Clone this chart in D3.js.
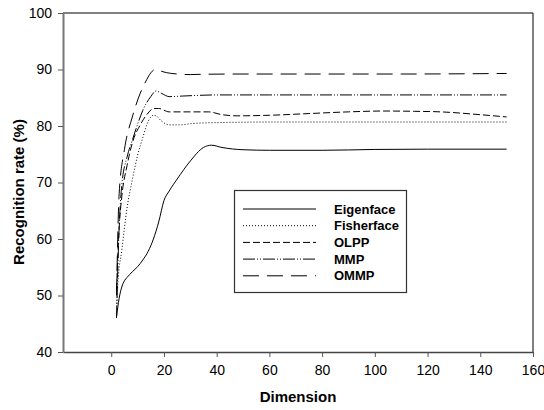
<!DOCTYPE html>
<html>
<head>
<meta charset="utf-8">
<script src="https://cdn.jsdelivr.net/npm/d3@7/dist/d3.min.js"></script>
<style>
  html, body { margin: 0; padding: 0; background: #fff; }
  svg { display: block; font-family: "Liberation Sans", Arial, sans-serif; }
</style>
</head>
<body>
<svg id="chart" width="544" height="410"></svg>
<script>
// ---- data ----
const seriesNames = ["Eigenface", "Fisherface", "OLPP", "MMP", "OMMP"];

const eigenX = [2, 3, 4, 5, 6, 8, 10, 12, 14, 16, 18, 20, 22, 25, 30, 35, 38, 42, 50, 60, 80, 100, 120, 150];
const eigenY = [46.2, 49.5, 51.5, 52.6, 53.2, 54.2, 55.1, 56.3, 57.8, 60.0, 63.0, 66.8, 68.5, 70.6, 73.8, 76.2, 76.6, 76.2, 75.8, 75.7, 75.7, 75.85, 75.9, 75.9];

const fisherX = [2, 2.5, 4, 6, 8, 10, 12, 14, 16, 17, 19, 22, 26, 30, 40, 60, 100, 150];
const fisherY = [47.0, 52.0, 58.0, 65.5, 70.5, 74.8, 78.0, 80.8, 81.9, 81.8, 80.9, 80.2, 80.2, 80.4, 80.6, 80.7, 80.7, 80.7];

const olppX = [2, 3, 4, 6, 8, 11, 14, 16, 18, 22, 30, 37, 42, 48, 60, 75, 90, 103, 115, 125, 140, 150];
const olppY = [51.0, 62.0, 67.5, 73.0, 77.0, 80.2, 82.3, 83.1, 83.1, 82.5, 82.5, 82.5, 82.0, 81.8, 81.9, 82.2, 82.5, 82.65, 82.6, 82.5, 82.0, 81.6];

const mmpX = [2, 3, 4, 6, 8, 10, 12, 15, 17, 19, 22, 27, 40, 60, 100, 150];
const mmpY = [46.0, 62.0, 69.5, 74.5, 77.5, 80.3, 82.8, 85.2, 86.2, 85.8, 85.2, 85.3, 85.5, 85.5, 85.5, 85.5];

const ommpX = [2, 3, 5, 8, 11, 13, 15, 17, 19, 23, 30, 34, 50, 80, 110, 150];
const ommpY = [50.0, 68.0, 75.8, 81.6, 85.8, 87.8, 89.4, 90.1, 89.7, 89.3, 89.1, 89.15, 89.2, 89.2, 89.2, 89.3];

const xTicks = [0, 20, 40, 60, 80, 100, 120, 140, 160];
const yTicks = [40, 50, 60, 70, 80, 90, 100];

const xTitle = "Dimension";
const yTitle = "Recognition rate (%)";

// ---- build ----
const series = [
  { name: seriesNames[0], xs: eigenX, ys: eigenY, dash: null },
  { name: seriesNames[1], xs: fisherX, ys: fisherY, dash: "1,2" },
  { name: seriesNames[2], xs: olppX, ys: olppY, dash: "7,3" },
  { name: seriesNames[3], xs: mmpX, ys: mmpY, dash: "12,2,1,2,1,2" },
  { name: seriesNames[4], xs: ommpX, ys: ommpY, dash: "16,8" }
];

const svg = d3.select("#chart");
const L = 63, R = 533, T = 13, B = 352;

const x = d3.scaleLinear().domain([-18.3, 160]).range([L, R]);
const y = d3.scaleLinear().domain([40, 100]).range([B, T]);

// frame top & right
svg.append("line").attr("x1", L).attr("x2", R).attr("y1", T).attr("y2", T)
  .attr("stroke", "#000").attr("stroke-width", 1);
svg.append("line").attr("x1", R).attr("x2", R).attr("y1", T).attr("y2", B)
  .attr("stroke", "#000").attr("stroke-width", 1);

// x axis
const gx = svg.append("g").attr("transform", `translate(0,${B})`)
  .call(d3.axisBottom(x).tickValues(xTicks).tickSize(5).tickSizeOuter(0).tickPadding(8));
gx.select(".domain").attr("stroke", "#444").attr("stroke-width", 1.3);
gx.selectAll(".tick line").attr("stroke", "#555");
gx.selectAll(".tick text").attr("font-size", 14).attr("fill", "#000")
  .attr("font-family", "Liberation Sans, Arial, sans-serif");

// y axis
const gy = svg.append("g").attr("transform", `translate(${L},0)`)
  .call(d3.axisLeft(y).tickValues(yTicks).tickSize(5).tickSizeOuter(0).tickPadding(6));
gy.select(".domain").attr("stroke", "#777").attr("stroke-width", 2);
gy.selectAll(".tick line").attr("stroke", "#555");
gy.selectAll(".tick text").attr("font-size", 14).attr("fill", "#000")
  .attr("font-family", "Liberation Sans, Arial, sans-serif");

// titles
svg.append("text").attr("x", (L + R) / 2 + 0).attr("y", 402)
  .attr("text-anchor", "middle").attr("font-size", 15).attr("font-weight", "bold")
  .text(xTitle);
svg.append("text").attr("transform", `translate(24,${192}) rotate(-90)`)
  .attr("text-anchor", "middle").attr("font-size", 15).attr("font-weight", "bold")
  .text(yTitle);

// lines
const line = d3.line().x(d => x(d[0])).y(d => y(d[1])).curve(d3.curveMonotoneX);
series.forEach(s => {
  const pts = s.xs.map((v, i) => [v, s.ys[i]]);
  svg.append("path").datum(pts).attr("d", line)
    .attr("fill", "none").attr("stroke", "#000").attr("stroke-width", 1)
    .attr("stroke-dasharray", s.dash);
});

// legend
const lg = svg.append("g");
lg.append("rect").attr("x", 234.5).attr("y", 190.5).attr("width", 172).attr("height", 102)
  .attr("fill", "#fff").attr("stroke", "#333").attr("stroke-width", 1.2);
series.forEach((s, i) => {
  const yy = 209 + i * 16.7;
  lg.append("line").attr("x1", 243).attr("x2", 316).attr("y1", yy).attr("y2", yy)
    .attr("stroke", "#000").attr("stroke-width", 1).attr("stroke-dasharray", s.dash);
  lg.append("text").attr("x", 334).attr("y", yy).attr("dy", "0.35em")
    .attr("font-size", 13).attr("font-weight", "bold").text(s.name);
});
</script>
</body>
</html>
